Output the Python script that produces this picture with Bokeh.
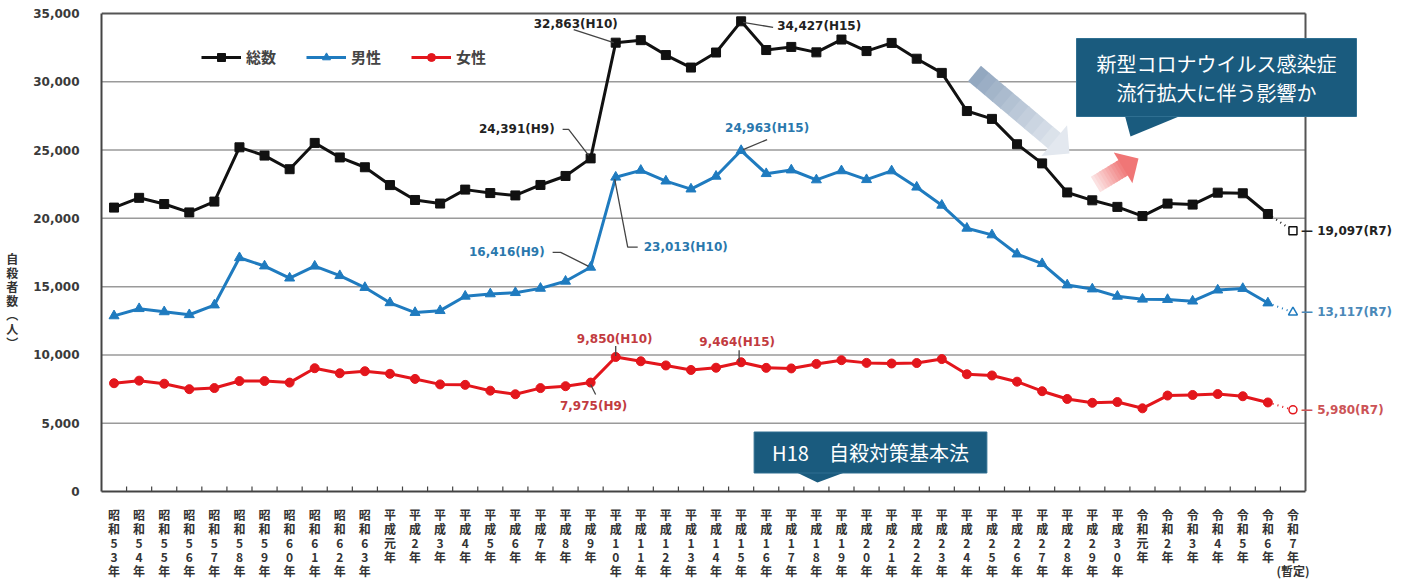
import numpy as np
from bokeh.plotting import figure
from bokeh.models import (Range1d, Legend, LegendItem, Label,
                          FixedTicker, NumeralTickFormatter, ColumnDataSource)
from bokeh.embed import file_html
from bokeh.resources import INLINE

# ---------------- data ----------------
years = ["昭和53年", "昭和54年", "昭和55年", "昭和56年", "昭和57年", "昭和58年",
         "昭和59年", "昭和60年", "昭和61年", "昭和62年", "昭和63年",
         "平成元年", "平成2年", "平成3年", "平成4年", "平成5年", "平成6年",
         "平成7年", "平成8年", "平成9年", "平成10年", "平成11年", "平成12年",
         "平成13年", "平成14年", "平成15年", "平成16年", "平成17年", "平成18年",
         "平成19年", "平成20年", "平成21年", "平成22年", "平成23年", "平成24年",
         "平成25年", "平成26年", "平成27年", "平成28年", "平成29年", "平成30年",
         "令和元年", "令和2年", "令和3年", "令和4年", "令和5年", "令和6年", "令和7年"]
last_note = "(暫定)"   # shown under 令和7年

total = [20788, 21503, 21048, 20434, 21228, 25202, 24596, 23599, 25524, 24460, 23742,
         22436, 21346, 21084, 22104, 21851, 21679, 22445, 23104, 24391, 32863,
         33048, 31957, 31042, 32143, 34427, 32325, 32552, 32155, 33093, 32249,
         32845, 31690, 30651, 27858, 27283, 25427, 24025, 21897, 21321, 20840,
         20169, 21081, 21007, 21881, 21837, 20320, 19097]
male = [12859, 13386, 13155, 12942, 13654, 17116, 16508, 15624, 16497, 15802, 14934,
        13818, 13102, 13242, 14296, 14468, 14560, 14874, 15393, 16416, 23013,
        23512, 22727, 22144, 23080, 24963, 23272, 23540, 22813, 23478, 22831,
        23472, 22283, 20955, 19273, 18787, 17386, 16681, 15121, 14826, 14290,
        14078, 14055, 13939, 14746, 14862, 13801, 13117]
female = [7929, 8117, 7893, 7492, 7574, 8086, 8088, 7975, 9027, 8658, 8808,
          8618, 8244, 7842, 7808, 7383, 7119, 7571, 7711, 7975, 9850,
          9536, 9230, 8898, 9063, 9464, 9053, 9012, 9342, 9615, 9418,
          9373, 9407, 9696, 8585, 8496, 8041, 7344, 6776, 6495, 6550,
          6091, 7026, 7068, 7135, 6975, 6519, 5980]
series_names = ["総数", "男性", "女性"]
y_ticks = [0, 5000, 10000, 15000, 20000, 25000, 30000, 35000]
y_label = "自殺者数（人）"

# ---------------- layout ----------------
W, H = 1409, 585
FL, FB = 101, 491          # frame left / bottom (px)
CR, CT = 1305, 13          # chart box right / top (px)
N = len(years)
YMAX = y_ticks[-1]
PXX = (CR - FL) / N
PXY = (FB - CT) / YMAX
XMAX = -0.5 + (W - FL) / PXX
YTOP = YMAX + 2 / PXY

def X(px):
    return -0.5 + (px - FL) / PXX

def Y(py):
    return (FB - py) / PXY

def off(i, v, ox, oy):
    return i + ox / PXX, v - oy / PXY

C_T, C_M, C_F = "#111111", "#1f7bbf", "#e3161c"
BOX = "#1a5b7e"
NUMFONT = "DejaVu Sans"
JPFONT = "Noto Sans CJK JP"

xs_idx = list(range(N))
tick_labels = {i: "\n".join(y) for i, y in enumerate(years)}
tick_labels[N - 1] = tick_labels[N - 1] + "\n" + last_note

p = figure(width=W, height=H, x_range=Range1d(-0.5, XMAX),
           y_range=Range1d(0, YTOP), output_backend="svg", toolbar_location=None,
           min_border_left=FL, min_border_right=0, min_border_top=CT - 2,
           min_border_bottom=H - FB, background_fill_color="white",
           border_fill_color="white")
p.outline_line_color = None
p.xgrid.grid_line_color = None
p.ygrid.grid_line_color = None

# axes
p.yaxis.ticker = FixedTicker(ticks=y_ticks)
p.yaxis.bounds = (0, YMAX)
p.yaxis.formatter = NumeralTickFormatter(format="0,0")
p.yaxis.major_label_text_font = NUMFONT
p.yaxis.major_label_text_font_size = "12px"
p.yaxis.major_label_text_font_style = "bold"
p.yaxis.major_label_text_color = "#3a3a3a"
p.yaxis.major_tick_line_color = None
p.yaxis.minor_tick_line_color = None
p.yaxis.major_label_standoff = 16
p.yaxis.axis_line_color = "#444444"
p.yaxis.axis_line_width = 2
p.yaxis.axis_label = "\n".join(["\u3000"] * 7 + list(y_label.replace("（", "︵").replace("）", "︶")))
p.yaxis.axis_label_orientation = "horizontal"
p.yaxis.axis_label_text_font = JPFONT
p.yaxis.axis_label_text_font_size = "12px"
p.yaxis.axis_label_text_font_style = "bold"
p.yaxis.axis_label_text_color = "#333333"
p.yaxis.axis_label_text_line_height = 0.82
p.yaxis.axis_label_standoff = 12

p.xaxis.ticker = FixedTicker(ticks=xs_idx)
p.xaxis.major_label_overrides = tick_labels
p.xaxis.bounds = (-0.5, N - 0.5)
p.xaxis.major_label_text_font = JPFONT
p.xaxis.major_label_text_font_size = "12px"
p.xaxis.major_label_text_font_style = "bold"
p.xaxis.major_label_text_color = "#333333"
p.xaxis.major_label_text_line_height = 0.83
p.xaxis.major_label_standoff = 8
p.xaxis.major_tick_line_color = None
p.xaxis.minor_tick_line_color = None
p.xaxis.axis_line_color = "#444444"
p.xaxis.axis_line_width = 2

# grid lines and chart box (limited to the category span)
gy = y_ticks[1:-1]
p.segment(x0=[-0.5] * len(gy), y0=gy, x1=[N - 0.5] * len(gy), y1=gy,
          line_color="#9a9a9a", line_width=1.5)
p.segment(x0=[-0.5, N - 0.5], y0=[YMAX, 0], x1=[N - 0.5, N - 0.5], y1=[YMAX, YMAX],
          line_color="#555555", line_width=2)

# small inner ticks at category boundaries
bx = [i + 0.5 for i in range(N - 1)]
p.segment(x0=bx, y0=[0] * len(bx), x1=bx, y1=[5 / PXY] * len(bx),
          line_color="#444444", line_width=1.2)

# ---------------- series ----------------
src = ColumnDataSource(dict(x=xs_idx[:-1], t=total[:-1], m=male[:-1], f=female[:-1]))
src_last = ColumnDataSource(dict(x=xs_idx[-2:], t=total[-2:], m=male[-2:], f=female[-2:]))
src_end = ColumnDataSource(dict(x=xs_idx[-1:], t=total[-1:], m=male[-1:], f=female[-1:]))

items = []
for col, color, marker, size, name in [("t", C_T, "square", 9, series_names[0]),
                                       ("m", C_M, "triangle", 10, series_names[1]),
                                       ("f", C_F, "circle", 9, series_names[2])]:
    ln = p.line("x", col, source=src, line_color=color, line_width=3, line_join="round")
    sc = p.scatter("x", col, source=src, marker=marker, size=size,
                   fill_color=color, line_color=color)
    p.line("x", col, source=src_last, line_color=color, line_width=2, line_dash="1 4")
    p.scatter("x", col, source=src_end, marker=marker, size=size - 1,
              fill_color="white", line_color=color, line_width=1.5)
    items.append(LegendItem(label=name, renderers=[ln, sc]))

legend = Legend(items=items, orientation="horizontal", location=(100, 424),
                background_fill_alpha=0, border_line_color=None,
                label_text_font=JPFONT, label_text_font_size="15px",
                label_text_font_style="bold", label_text_color="#444444",
                glyph_width=40, glyph_height=20, label_standoff=5, spacing=30,
                padding=0, margin=0)
p.add_layout(legend)

# ---------------- value annotations ----------------
def note(i, vals, text, color, ox, oy, align, leader):
    v = vals[i]
    x, y = off(i, v, ox, oy)
    p.add_layout(Label(x=x, y=y, text=text, text_align=align, text_baseline="middle",
                       text_font=NUMFONT, text_font_size="12px",
                       text_font_style="bold", text_color=color))
    if leader:
        lx, ly = zip(*[off(i, v, a, b) for a, b in leader])
        p.line(list(lx), list(ly), line_color="#444444", line_width=1.3)

iH9, iH10, iH15 = years.index("平成9年"), years.index("平成10年"), years.index("平成15年")
note(iH10, total, "32,863(H10)", "#222222", -40, -19, "center", [(-42, -13), (-2, 0)])
note(iH15, total, "34,427(H15)", "#222222", 36, 5, "left", [(2, 1), (32, 6)])
note(iH9, total, "24,391(H9)", "#222222", -36, -29, "right", [(-28, -29), (-22, -29), (-2, -3)])
note(iH15, male, "24,963(H15)", "#2a78ad", 26, -23, "center", [(26, -11), (2, -1)])
note(iH9, male, "16,416(H9)", "#2a78ad", -46, -15, "right", [(-38, -15), (-30, -15), (-2, -1)])
note(iH10, male, "23,013(H10)", "#2a78ad", 28, 70, "left", [(-1, 2), (12, 70), (22, 70)])
note(iH10, female, "9,850(H10)", "#c23b3f", -1, -18, "center", [(0, -11), (0, -1)])
note(iH15, female, "9,464(H15)", "#c23b3f", -4, -20, "center", [(-2, -12), (-2, 0)])
note(iH9, female, "7,975(H9)", "#c23b3f", 3, 23, "center", [(0, 2), (5, 12)])

iR7 = N - 1
for vals, color in [(total, "#222222"), (male, "#4a88b8"), (female, "#cc5356")]:
    v = vals[iR7]
    x, y = off(iR7, v, 8, 0)
    p.add_layout(Label(x=x, y=y, text="— {:,}(R7)".format(v), text_align="left",
                       text_baseline="middle", text_font=NUMFONT, text_font_size="12px",
                       text_font_style="bold", text_color=color))

# ---------------- callouts ----------------
p.add_layout(Label(x=X(1216), y=Y(77), text="新型コロナウイルス感染症\n流行拡大に伴う影響か",
                   text_align="center", text_baseline="middle", text_font=JPFONT,
                   text_font_size="20px", text_color="white", text_line_height=1.0,
                   background_fill_color=BOX, border_line_color="#2f6f91",
                   padding=dict(left=20, right=20, top=10, bottom=10)))
p.patch([X(1123), X(1193), X(1130)], [Y(110), Y(110), Y(136)],
        fill_color=BOX, line_color=None)

p.add_layout(Label(x=X(870), y=Y(452), text="H18　自殺対策基本法",
                   text_align="center", text_baseline="middle", text_font=JPFONT,
                   text_font_size="20px", text_color="white",
                   background_fill_color=BOX, border_line_color="#2f6f91",
                   padding=dict(left=18, right=18, top=6, bottom=6)))
p.patch([X(790), X(852), X(817)], [Y(469), Y(469), Y(482)],
        fill_color=BOX, line_color=None)

# gradient block arrows
def block_arrow(T, P, w, hw, hl, c0, c1, n=10):
    T = np.array(T, float); P = np.array(P, float)
    d = P - T; u = d / np.linalg.norm(d); nr = np.array([-u[1], u[0]])
    B = P - u * hl
    c0 = np.array([int(c0[k:k + 2], 16) for k in (1, 3, 5)], float)
    c1 = np.array([int(c1[k:k + 2], 16) for k in (1, 3, 5)], float)
    pxs, pys, cols = [], [], []
    for k in range(n + 1):
        c = c0 + (c1 - c0) * k / n
        cols.append("#%02x%02x%02x" % tuple(int(round(q)) for q in c))
        if k < n:
            a = T + (B - T) * k / n
            b = T + (B - T) * (k + 1) / n + u * 1.0
            pts = [a + nr * w / 2, b + nr * w / 2, b - nr * w / 2, a - nr * w / 2]
        else:
            pts = [B + nr * hw / 2, P, B - nr * hw / 2]
        pxs.append([X(q[0]) for q in pts]); pys.append([Y(q[1]) for q in pts])
    p.patches(pxs, pys, fill_color=cols, line_color=None)

block_arrow((974, 73), (1069, 153), 20, 40, 20, "#93a8c0", "#e3e8ef")
block_arrow((1095, 184), (1138, 158), 18, 36, 18, "#fbe2e2", "#f07676")

open("out.html", "w").write(file_html(p, INLINE))
